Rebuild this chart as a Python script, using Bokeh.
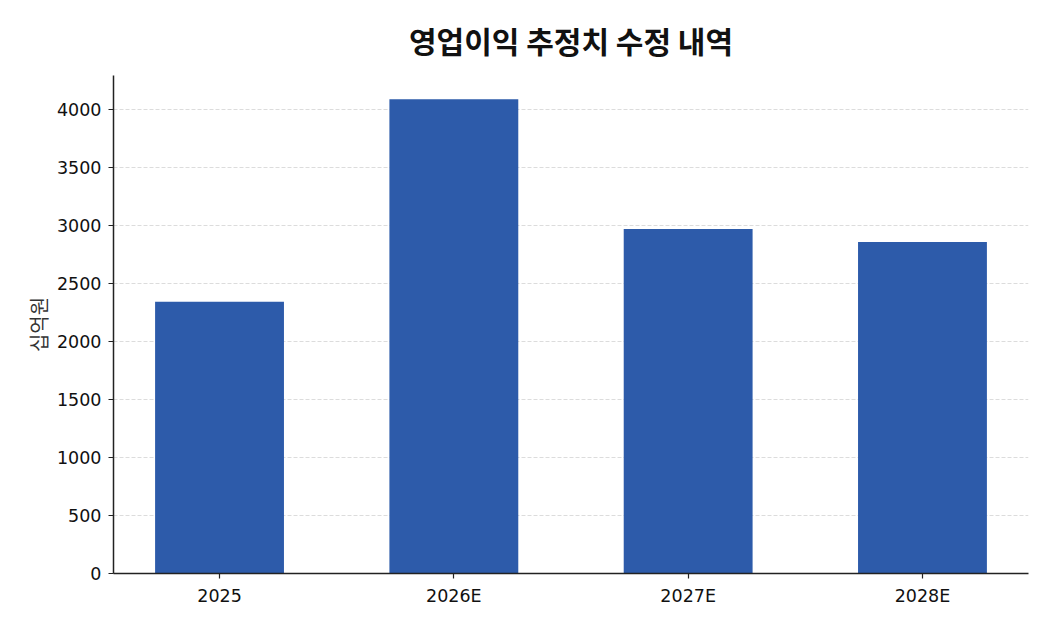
from bokeh.plotting import figure
from bokeh.models import Range1d, FixedTicker, Title
from bokeh.embed import file_html
from bokeh.resources import INLINE

categories = ["2025", "2026E", "2027E", "2028E"]
values = [2340, 4085, 2968, 2856]
y_ticks = [0, 500, 1000, 1500, 2000, 2500, 3000, 3500, 4000]

FONT = "Noto Sans CJK KR"
TICK_FONT = "DejaVu Sans"
xs = list(range(len(categories)))

p = figure(width=1034, height=614, output_backend="svg", toolbar_location=None,
           x_range=Range1d(-0.4525, len(categories) - 1 + 0.4525),
           y_range=Range1d(0, 4290),
           min_border_left=113, min_border_right=6, min_border_top=75, min_border_bottom=41)

p.vbar(x=xs, top=values, width=0.55, bottom=0, color="#2D5BAA", line_color=None)

t = Title(text="영업이익 추정치 수정 내역", align="center", text_font=FONT,
          text_font_size="30px", text_font_style="bold", text_color="#111111", offset=0,
          standoff=28)
p.add_layout(t, "above")

p.outline_line_color = None
p.xgrid.grid_line_color = None
p.ygrid.grid_line_color = "#dcdcdc"
p.ygrid.grid_line_dash = "4 2"
p.ygrid.grid_line_width = 1

p.xaxis.ticker = FixedTicker(ticks=xs)
p.xaxis.major_label_overrides = {i: c for i, c in enumerate(categories)}
p.yaxis.ticker = FixedTicker(ticks=y_ticks)
for ax in (p.xaxis, p.yaxis):
    ax.axis_line_color = "#222222"
    ax.axis_line_width = 1.5
    ax.major_tick_line_color = "#222222"
    ax.major_tick_line_width = 1.2
    ax.major_tick_out = 5
    ax.major_tick_in = 0
    ax.minor_tick_line_color = None
    ax.major_label_text_font = TICK_FONT
    ax.major_label_text_font_size = "17.5px"
    ax.major_label_text_color = "#111111"
p.yaxis.major_label_standoff = 7
p.xaxis.major_label_standoff = 7

p.yaxis.axis_label = "십억원"
p.yaxis.axis_label_text_font = FONT
p.yaxis.axis_label_text_font_size = "20px"
p.yaxis.axis_label_text_font_style = "normal"
p.yaxis.axis_label_text_color = "#333333"
p.yaxis.axis_label_standoff = 1

open("out.html", "w").write(file_html(p, INLINE))
